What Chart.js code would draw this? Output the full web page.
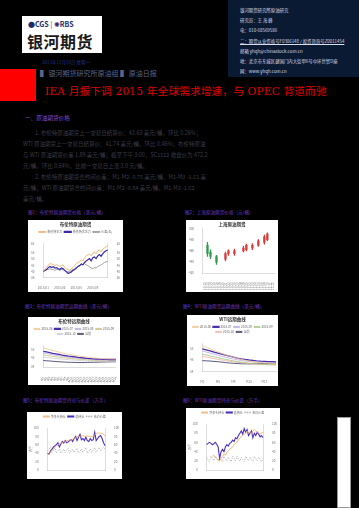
<!DOCTYPE html>
<html>
<head>
<meta charset="utf-8">
<script src="https://cdn.jsdelivr.net/npm/chart.js@4.4.0/dist/chart.umd.min.js"></script>
<style>
body { margin:0; background:#000; width:359px; height:508px; overflow:hidden; position:relative;
  font-family:"Noto Sans CJK SC", "DejaVu Sans", sans-serif; }
.abs { position:absolute; white-space:nowrap; }
.logo { left:22px; top:16px; width:80px; height:37px; background:#fff; }
.info { left:228px; top:0; width:131px; height:77px; background:#0b1a33; }
.info div { position:absolute; left:12px; font-size:4.4px; color:#dcdce8; white-space:nowrap; }
.para { font-size:5.5px; color:#3c3c48; left:23px; }
.ctitle { font-size:4.6px; color:#6a3cc0; }
.panel { position:absolute; background:#fff; }
.panel canvas { display:block; }
</style>
</head>
<body>

<div class="abs logo">
  <div class="abs" style="left:6px;top:3px;font-size:7px;font-weight:bold;color:#1d2b6b;">&#9679;CGS <span style="color:#888">|</span> <span style="color:#1d2b6b">&#10042;RBS</span></div>
  <div class="abs" style="left:5px;top:13px;font-size:16px;font-weight:bold;color:#1a1a1a;letter-spacing:0.5px;">银河期货</div>
</div>

<div class="abs info">
  <div style="top:7px">银河期货研究所原油研究</div>
  <div style="top:17px">研究员：王 海 峰</div>
  <div style="top:27px">电：010-68569586</div>
  <div style="top:38px;text-decoration:underline">二：期货从业资格号F0306148 / 投资咨询号Z0011454</div>
  <div style="top:48px">邮箱 yhqh@chinastock.com.cn</div>
  <div style="top:58px">地：北京市东城区建国门内大街甲6号中环世贸D座</div>
  <div style="top:68px">网：www.yhqh.com.cn</div>
</div>

<div class="abs" style="left:42px;top:59px;font-size:4.5px;color:#24338a;">2015年11月16日 星期一</div>
<div class="abs" style="left:40px;top:68px;font-size:7px;color:#5c6488;">▌ 银河期货研究所原油组 ▌ 原油日报</div>
<div class="abs" style="left:0;top:69px;width:36px;height:32px;background:#f00;"></div>
<div class="abs" style="left:45px;top:83px;font-size:10.6px;color:#e00000;font-family:'DejaVu Serif','Noto Sans CJK SC',serif;letter-spacing:0.2px;">IEA 月报下调 2015 年全球需求增速，与 OPEC 背道而驰</div>

<div class="abs" style="left:25px;top:114px;font-size:5.6px;color:#8a4ad0;">一、原油期货价格</div>
<div class="abs para" style="left:35px;top:129px">1. 布伦特原油期货上一交易日结算价：43.63 美元/桶，环比 0.26%；</div>
<div class="abs para" style="top:140px">WTI 原油期货上一交易日结算价：41.74 美元/桶，环比 0.46%；布伦特原油</div>
<div class="abs para" style="top:151px">与 WTI 原油期货价差 1.89 美元/桶；截至下午 3:00，SC1512 收盘价为 472.2</div>
<div class="abs para" style="top:162px">元/桶，环比 0.64%，比前一交易日上涨 3.0 元/桶。</div>
<div class="abs para" style="left:35px;top:173px">2. 布伦特原油期货合约间价差：M1-M2 -0.75 美元/桶，M1-M3 -1.61 美</div>
<div class="abs para" style="top:184px">元/桶；WTI 原油期货合约间价差：M1-M2 -0.84 美元/桶，M1-M3 -1.62</div>
<div class="abs para" style="top:195px">美元/桶。</div>

<div class="abs ctitle" style="left:28px;top:209px">图1：布伦特原油期货价格（美元/桶）</div>
<div class="abs ctitle" style="left:185px;top:209px">图2：上海原油期货价格（元/桶）</div>
<div class="abs ctitle" style="left:25px;top:303px">图3：布伦特原油期货远期曲线（美元/桶）</div>
<div class="abs ctitle" style="left:183px;top:303px">图4：WTI原油期货远期曲线（美元/桶）</div>
<div class="abs ctitle" style="left:23px;top:397px">图5：布伦特原油期货持仓与价差（万手）</div>
<div class="abs ctitle" style="left:183px;top:397px">图6：WTI原油期货持仓与价差（万手）</div>

<div class="panel" style="left:28px;top:220px"><canvas id="c1" width="95" height="72"></canvas></div>
<div class="panel" style="left:186px;top:220px"><canvas id="c2" width="92" height="72"></canvas></div>
<div class="panel" style="left:28px;top:317px"><canvas id="c3" width="92" height="68"></canvas></div>
<div class="panel" style="left:187px;top:315px"><canvas id="c4" width="91" height="71"></canvas></div>
<div class="panel" style="left:27px;top:412px"><canvas id="c5" width="95" height="67"></canvas></div>
<div class="panel" style="left:186px;top:408px"><canvas id="c6" width="94" height="71"></canvas></div>
<div class="abs" style="left:337px;top:417px;width:14px;height:91px;background:#fff;border:1px solid #999;box-sizing:border-box;"></div>

<script>
// 周度日期
var weekLabels = ['2015/01/05','2015/01/12','2015/01/19','2015/01/26','2015/02/02','2015/02/09','2015/02/16','2015/02/23',
  '2015/03/02','2015/03/09','2015/03/16','2015/03/23','2015/03/30','2015/04/06','2015/04/13','2015/04/20','2015/04/27',
  '2015/05/04','2015/05/11','2015/05/18','2015/05/25','2015/06/01','2015/06/08','2015/06/15','2015/06/22','2015/06/29',
  '2015/07/06','2015/07/13','2015/07/20','2015/07/27','2015/08/03','2015/08/10','2015/08/17','2015/08/24','2015/08/31',
  '2015/09/07','2015/09/14','2015/09/21','2015/09/28','2015/10/05'];

// 图1 布伦特
var brentNear = [40.5,42,43.5,45.6,46.5,46.2,45.9,45,45.6,45,44.4,45,45.6,43.5,42.6,42,41.4,42.6,43.5,45,
  46.5,47.4,48,49.5,48.6,51,52.5,53.4,54,52.5,54.6,55.5,54,56.4,57,55.5,57.6,58.5,59.4,60];
var brentSecond = [40.5,41.4,42,43.5,44.4,43.5,44.1,43.2,43.5,42.6,42,43.2,42.6,41.4,40.2,39,39.6,40.2,41.4,42,
  43.2,44.4,45,46.2,45.6,47.4,48.6,49.5,50.4,48.6,51,51.6,50.4,52.5,53.4,52.2,54,55.5,56.4,57];
var brentThird = [40.5,41.4,42,42,42.6,42,42,41.4,42,42,41.4,42,42,41.1,40.5,40.2,40.8,41.4,42,42.6,
  43.5,44.4,45,45.9,45.6,46.5,45.6,45,44.1,43.2,42.6,43.5,43.2,44.4,45,45.6,46.5,47.4,48,48];

// 图2 上海原油K线
var candleDates = ['10-12','10-13','10-14','10-15','10-16','10-19','10-20','10-21','10-22','10-23','10-26','10-27',
  '10-28','10-29','10-30','11-02','11-03','11-04','11-05','11-06','11-09','11-10','11-11','11-12'];
var candleOpen  = [null,470,458,null,450,null,null,445,455,null,455,null,null,460,462,null,465,null,470,null,475,480,null,null];
var candleClose = [null,455,450,null,440,null,null,455,460,null,460,null,null,465,470,null,470,null,478,null,485,490,null,null];
var candleLow   = [null,450,446,null,436,null,null,442,452,null,452,null,null,458,460,null,462,null,468,null,472,478,null,null];
var candleHigh  = [null,475,462,null,452,null,null,458,462,null,463,null,null,468,472,null,473,null,480,null,488,492,null,null];

// 图3 布伦特远期曲线
var brentMonths = ['M1','M2','M3','M4','M5','M6','M7','M8','M9','M10','M11','M12','M13','M14','M15','M16','M17','M18','M19','M20','M21','M22','M23','M24'];
var brentCurveNames = ['2015-06','2015-07','2015-08','2015-09','2015-10','当前'];
var brentCurveA = [57,56,55,54,53,52,51,50.2,49.4,48.7,48,47.4,46.8,46.3,45.8,45.4,45,44.7,44.4,44.2,44,43.9,43.8,43.8];
var brentCurveB = [53,52.2,51.4,50.6,49.9,49.2,48.5,47.9,47.3,46.8,46.3,45.8,45.4,45,44.6,44.3,44,43.8,43.6,43.4,43.3,43.2,43.2,43.2];
var brentCurveC = [51,50.3,49.6,48.9,48.3,47.7,47.1,46.6,46.1,45.6,45.2,44.8,44.4,44.1,43.8,43.5,43.2,43,42.8,42.6,42.5,42.4,42.4,42.4];
var brentCurveD = [48.5,48,47.5,47,46.5,46,45.5,45.1,44.7,44.3,43.9,43.6,43.3,43,42.7,42.4,42.2,42,41.8,41.7,41.6,41.5,41.5,41.5];
var brentCurveE = [46,45.6,45.2,44.8,44.4,44,43.6,43.3,43,42.7,42.4,42.1,41.9,41.7,41.5,41.3,41.2,41.1,41,41,41,41,41,41];
var brentCurveF = [42,41.7,41.4,41.1,40.8,40.5,40.3,40.1,39.9,39.8,39.7,39.6,39.6,39.6,39.7,39.8,39.9,40,40.1,40.2,40.3,40.4,40.5,40.5];

// 图4 WTI远期曲线
var wtiMonths = ['M1','M2','M3','M4','M5','M6','M7','M8','M9','M10','M11','M12','M13','M14','M15','M16','M17','M18','M19','M20'];
var wtiCurveNames = ['2015-06','2015-07','2015-08','2015-09','2015-10','当前'];
var wtiCurveA = [58,56.5,55,53.5,52,50.7,49.4,48.2,47.1,46.1,45.2,44.4,43.7,43.1,42.6,42.2,41.9,41.7,41.5,41.4];
var wtiCurveB = [55,54,53,52,51,50,49,48.1,47.2,46.4,45.7,45.1,44.6,44.2,43.8,43.5,43.3,43.1,43,42.9];
var wtiCurveC = [53,52,51,50,49,48,47.1,46.3,45.5,44.8,44.2,43.7,43.2,42.8,42.5,42.2,42,41.9,41.8,41.7];
var wtiCurveD = [50,49.2,48.4,47.6,46.8,46,45.2,44.5,43.8,43.2,42.6,42.1,41.7,41.3,41,40.8,40.6,40.5,40.4,40.4];
var wtiCurveE = [48,47.3,46.6,45.9,45.2,44.6,44,43.4,42.9,42.4,42,41.6,41.2,40.9,40.6,40.4,40.2,40.1,40,40];
var wtiCurveF = [44,43.8,43.6,43.3,43,42.6,42.2,41.8,41.5,41.3,41.1,41,41,41,41.1,41.2,41.3,41.4,41.5,41.6];

// 图5 布伦特持仓
var brentOI = [40,38,45,50,55,58,60,65,55,62,68,64,70,65,67,70,72,68,75,80,70,78,85,72,75,70,78,70,68,75,70,72,90,70,75,80,82,75,65,58];
var brentNet = [35,40,42,48,50,55,58,60,62,64,65,67,68,70,70,72,70,73,75,78,80,80,80,82,82,80,80,81,80,80,79,80,84,85,88,88,87,88,85,80];
var brentSpread = [45,50,55,42,48,53,40,45,50,40,45,50,42,47,52,40,45,50,42,47,52,40,45,50,42,48,53,40,45,50,42,47,53,43,48,54,45,50,55,50];

// 图6 WTI持仓
var wtiOI = [55,58,60,58,55,57,60,56,50,25,40,45,40,50,55,52,58,60,65,62,70,68,75,80,85,78,90,82,88,75,80,85,70,80,75,82,78,72,75,70];
var wtiNet = [null,null,null,null,30,32,28,25,22,20,25,30,35,32,38,42,45,48,50,55,58,60,65,70,72,75,78,80,85,80,82,78,85,88,85,82,80,78,80,82];
var wtiSpread = [28,22,18,30,25,20,30,25,20,28,22,18,30,24,20,28,23,18,30,25,20,30,24,19,28,23,18,30,25,20,28,22,18,30,24,20,28,23,18,25];

var tinyFont = { size: 3, family: 'Noto Sans CJK SC' };

function baseOptions(titleText, showLegend) {
	return {
		responsive: false,
		animation: false,
		devicePixelRatio: 1,
		layout: { padding: { left: 2, right: 2, top: 1, bottom: 1 } },
		plugins: {
			title: { display: !!titleText, text: titleText, font: { size: 4.5, family: 'Noto Sans CJK SC' }, color: '#333', padding: { top: 1, bottom: 1 } },
			legend: {
				display: showLegend,
				labels: { font: tinyFont, boxWidth: 7, boxHeight: 1, padding: 2, color: '#666' }
			},
			tooltip: { enabled: false }
		},
		elements: { point: { radius: 0 }, line: { borderWidth: 0.8, tension: 0 } },
		scales: {}
	};
}

function axis(pos, min, max, extra) {
	var a = {
		position: pos, min: min, max: max,
		grid: { display: false },
		border: { color: '#bbb', width: 0.5 },
		ticks: { font: tinyFont, color: '#777', padding: 1, maxTicksLimit: 7 }
	};
	for (var k in extra) a[k] = extra[k];
	return a;
}

function shortDate(value) {
	return this.getLabelForValue(value).slice(0, 7);
}

/* 图1 */
var o1 = baseOptions('布伦特原油期货', true);
o1.scales = {
	x: { grid: { display: false }, border: { color: '#bbb', width: 0.5 }, ticks: { font: tinyFont, color: '#777', maxRotation: 0, autoSkip: true, maxTicksLimit: 4, padding: 1, callback: shortDate } },
	y: axis('left', 36, 62),
	y1: axis('right', 36, 62)
};
new Chart(document.getElementById('c1'), {
	type: 'line',
	data: {
		labels: weekLabels,
		datasets: [
			{ label: '布伦特主力', data: brentNear, borderColor: '#f0a860', yAxisID: 'y' },
			{ label: '布伦特次主力', data: brentSecond, borderColor: '#3a2aa8', borderWidth: 1.2, yAxisID: 'y' },
			{ label: '价差(右)', data: brentThird, borderColor: '#8a8a8a', yAxisID: 'y1' }
		]
	},
	options: o1
});

/* 图2 K线 */
var wick = [], body = [], candleColor = [];
for (var i = 0; i < candleDates.length; i++) {
	if (candleOpen[i] === null) { wick.push(null); body.push(null); candleColor.push('#fff'); continue; }
	wick.push([candleLow[i], candleHigh[i]]);
	body.push([candleOpen[i], candleClose[i]]);
	candleColor.push(candleClose[i] >= candleOpen[i] ? '#d83a3a' : '#2e9a4e');
}
var o2 = baseOptions('上海原油期货', false);
o2.scales = {
	x: { grid: { display: false }, border: { color: '#bbb', width: 0.5 }, ticks: { font: tinyFont, color: '#777', autoSkip: false, minRotation: 90, maxRotation: 90, padding: 1 } },
	y: axis('left', 420, 500)
};
new Chart(document.getElementById('c2'), {
	type: 'bar',
	data: {
		labels: candleDates,
		datasets: [
			{ data: wick, backgroundColor: candleColor, barThickness: 0.6, grouped: false },
			{ data: body, backgroundColor: candleColor, barThickness: 1.6, grouped: false }
		]
	},
	options: o2
});

/* 图3 */
var curveColors = ['#f2c48c', '#4a2fb0', '#b6a8e6', '#c8c070', '#c9ccd8', '#2c2c5c'];
var curveWidths = [0.8, 1.3, 0.8, 0.8, 0.8, 0.8];
function curveSets(names, arrs) {
	var out = [];
	for (var j = 0; j < arrs.length; j++) {
		out.push({ label: names[j], data: arrs[j], borderColor: curveColors[j], borderWidth: curveWidths[j] });
	}
	return out;
}
var o3 = baseOptions('布伦特远期曲线', true);
o3.plugins.legend.labels.boxWidth = 6;
o3.scales = {
	x: { grid: { display: false }, border: { color: '#bbb', width: 0.5 }, ticks: { font: tinyFont, color: '#777', autoSkip: false, minRotation: 60, maxRotation: 60, padding: 1 } },
	y: axis('left', 34, 60)
};
new Chart(document.getElementById('c3'), {
	type: 'line',
	data: { labels: brentMonths, datasets: curveSets(brentCurveNames, [brentCurveA, brentCurveB, brentCurveC, brentCurveD, brentCurveE, brentCurveF]) },
	options: o3
});

/* 图4 */
curveColors = ['#f2c48c', '#4a2fb0', '#b6a8e6', '#9cc47a', '#f0b0a0', '#2c2c5c'];
var o4 = baseOptions('WTI远期曲线', true);
o4.plugins.legend.labels.boxWidth = 6;
o4.scales = {
	x: { grid: { display: false }, border: { color: '#bbb', width: 0.5 }, ticks: { font: tinyFont, color: '#777', maxRotation: 0, autoSkip: true, maxTicksLimit: 6, padding: 1 } },
	y: axis('left', 34, 60)
};
new Chart(document.getElementById('c4'), {
	type: 'line',
	data: { labels: wtiMonths, datasets: curveSets(wtiCurveNames, [wtiCurveA, wtiCurveB, wtiCurveC, wtiCurveD, wtiCurveE, wtiCurveF]) },
	options: o4
});

/* 图5 / 图6 */
function oiChart(id, oi, net, spread) {
	var o = baseOptions('', true);
	o.plugins.legend.labels.boxWidth = 6;
	o.scales = {
		x: { grid: { display: false }, border: { color: '#bbb', width: 0.5 }, ticks: { display: false } },
		y: axis('left', 0, 100, { title: { display: true, text: '万手', font: tinyFont, padding: 0 } }),
		y1: axis('right', 0, 100)
	};
	new Chart(document.getElementById(id), {
		type: 'line',
		data: {
			labels: weekLabels,
			datasets: [
				{ label: '净多头持仓', data: net, borderColor: '#f0a860', yAxisID: 'y1' },
				{ label: '总持仓', data: oi, borderColor: '#4a2fc0', borderWidth: 1.1, yAxisID: 'y' },
				{ label: '合约价差', data: spread, borderColor: '#777', borderWidth: 0.6, borderDash: [1, 1.5], yAxisID: 'y' }
			]
		},
		options: o
	});
}
oiChart('c5', brentOI, brentNet, brentSpread);
oiChart('c6', wtiOI, wtiNet, wtiSpread);
</script>
</body>
</html>
